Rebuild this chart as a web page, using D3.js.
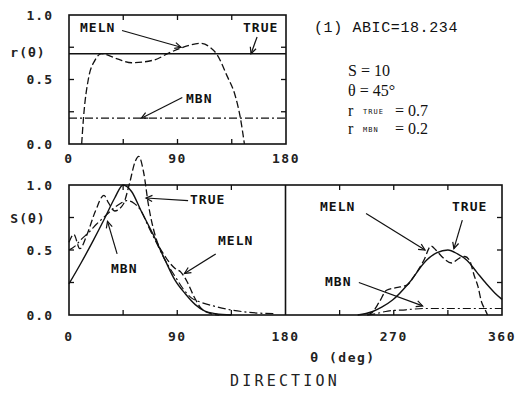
<!DOCTYPE html>
<html>
<head>
<meta charset="utf-8">
<script src="https://cdn.jsdelivr.net/npm/d3@7/dist/d3.min.js"></script>
<style>
  html, body { margin: 0; padding: 0; background: #fff; }
  svg { display: block; }
  .tick-label { font-family: "DejaVu Sans Mono", monospace; font-size: 13px; font-weight: bold; fill: #222; }
  .curve-label { font-family: "DejaVu Sans Mono", monospace; font-size: 13px; font-weight: bold; fill: #111; }
  .note { font-family: "Liberation Mono", monospace; font-size: 15px; fill: #111; }
  .param { font-family: "Liberation Serif", serif; font-size: 16px; fill: #111; }
  .sub { font-family: "DejaVu Sans Mono", monospace; font-size: 7px; fill: #111; }
</style>
</head>
<body>
<svg id="chart" width="517" height="401"></svg>
<script>
// ---- constants of the estimates ----
const rTrue = 0.7;
const rMbn = 0.2;

// r(θ) estimated by MELN (degrees / value)
const rMelnDeg = [10.5, 12, 16, 21.6, 27, 40, 52, 70, 84, 98, 109, 117, 123, 131, 138, 142, 145.5];
const rMelnVal = [0, 0.2, 0.5, 0.65, 0.7, 0.66, 0.63, 0.65, 0.71, 0.76, 0.78, 0.75, 0.69, 0.53, 0.37, 0.21, 0];

// S(θ) : true spectrum
const sTrueDeg = [0, 10, 20, 30, 38, 45, 52, 60, 71, 80, 88, 97, 105, 113, 122, 135, null,
                  240, 252, 260, 269, 283, 297, 306, 315, 323, 331, 339, 347, 354, 360];
const sTrueVal = [0.24, 0.4, 0.57, 0.75, 0.9, 1.0, 0.95, 0.8, 0.6, 0.42, 0.27, 0.16, 0.08, 0.03, 0.01, 0, null,
                  0, 0.025, 0.06, 0.115, 0.25, 0.42, 0.48, 0.5, 0.47, 0.42, 0.33, 0.24, 0.17, 0.12];

// S(θ) : MELN estimate
const sMelnDeg = [0, 4, 9, 15, 22, 29, 33, 38, 45, 50, 55, 58, 62, 66, 72, 80, 88, 93, 98, 104, 110, 118, 125, null,
                  248, 252, 258, 264, 272, 281, 287, 295, 301, 305, 311, 318, 325, 329, 333, 337, 340, 343, 346, 348];
const sMelnVal = [0.56, 0.62, 0.51, 0.62, 0.8, 0.92, 0.86, 0.8, 0.85, 1.0, 1.18, 1.22, 1.1, 0.85, 0.6, 0.45, 0.36, 0.33, 0.26, 0.14, 0.05, 0.01, 0, null,
                  0, 0.02, 0.1, 0.19, 0.21, 0.23, 0.3, 0.42, 0.53, 0.5, 0.44, 0.4, 0.44, 0.45, 0.42, 0.3, 0.22, 0.1, 0.04, 0];

// S(θ) : MBN estimate
const sMbnDeg = [0, 5, 10, 17, 23, 30, 37, 43, 48, 54, 60, 66, 73, 80, 88, 95, 102, 109, 120, 134, 150, 170, null,
                 248, 255, 265, 280, 295, 320, 360];
const sMbnVal = [0.5, 0.53, 0.58, 0.64, 0.7, 0.76, 0.82, 0.86, 0.88, 0.86, 0.8, 0.68, 0.55, 0.42, 0.3, 0.2, 0.13, 0.1, 0.07, 0.04, 0.02, 0.01, null,
                 0, 0.01, 0.03, 0.04, 0.05, 0.05, 0.05];

// axis ticks and labels
const topXTicks = [0, 90, 180];
const bottomXTicks = [0, 90, 180, 270, 360];
const minorXTicks = [45, 90, 135, 225, 270, 315];
const yTicks = [0.0, 0.5, 1.0];
const yMinor = [0.25, 0.5, 0.75];

const svg = d3.select("#chart");

// scales
const xTop = d3.scaleLinear().domain([0, 180]).range([69, 286]);
const yTop = d3.scaleLinear().domain([0, 1]).range([144, 15]);
const xBot = d3.scaleLinear().domain([0, 360]).range([69, 502]);
const yBot = d3.scaleLinear().domain([0, 1]).range([315, 185]);

const STYLE = {
  true: { dash: null, w: 1.4 },
  meln: { dash: "7,3", w: 1.3 },
  mbn:  { dash: "8,3,2,3", w: 1.2 }
};

function zip(xs, ys) { return xs.map((d, i) => [d, ys[i]]); }

function drawCurve(g, x, y, pts, st) {
  const line = d3.line()
    .defined(d => d[0] !== null && d[1] !== null)
    .x(d => x(d[0])).y(d => y(d[1]))
    .curve(d3.curveMonotoneX);
  g.append("path").attr("d", line(pts))
    .attr("fill", "none").attr("stroke", "#111")
    .attr("stroke-width", st.w)
    .attr("stroke-dasharray", st.dash)
    .attr("stroke-linejoin", "round");
}

function frame(x, y, xMinor) {
  const [x0, x1] = x.range();
  const [y0, y1] = y.range();
  const g = svg.append("g");
  g.append("rect").attr("x", x0).attr("y", y1).attr("width", x1 - x0).attr("height", y0 - y1)
    .attr("fill", "none").attr("stroke", "#111").attr("stroke-width", 1.6);
  // inward ticks, y
  yMinor.forEach(v => {
    g.append("line").attr("x1", x0).attr("x2", x0 + 5).attr("y1", y(v)).attr("y2", y(v)).attr("stroke", "#111").attr("stroke-width", 1.3);
    g.append("line").attr("x1", x1).attr("x2", x1 - 5).attr("y1", y(v)).attr("y2", y(v)).attr("stroke", "#111").attr("stroke-width", 1.3);
  });
  // inward ticks, x
  xMinor.filter(v => v < x.domain()[1]).forEach(v => {
    g.append("line").attr("x1", x(v)).attr("x2", x(v)).attr("y1", y1).attr("y2", y1 + 5).attr("stroke", "#111").attr("stroke-width", 1.3);
    g.append("line").attr("x1", x(v)).attr("x2", x(v)).attr("y1", y0).attr("y2", y0 - 5).attr("stroke", "#111").attr("stroke-width", 1.3);
  });
  return g;
}

function yLabels(y, name, nameY) {
  yTicks.forEach(v => {
    svg.append("text").attr("class", "tick-label")
      .attr("x", 53).attr("y", y(v)).attr("dy", "0.35em")
      .attr("text-anchor", "end").attr("letter-spacing", 1)
      .text(v.toFixed(1));
  });
  svg.append("text").attr("class", "tick-label")
    .attr("x", 28).attr("y", nameY).attr("dy", "0.35em")
    .attr("text-anchor", "middle").attr("letter-spacing", 1)
    .text(name);
}

function xLabels(x, ticks, yPos) {
  ticks.forEach(v => {
    svg.append("text").attr("class", "tick-label")
      .attr("x", x(v)).attr("y", yPos).attr("dy", "0.35em")
      .attr("text-anchor", "middle").attr("letter-spacing", 1.5)
      .text(v);
  });
}

// label with a leader line and a small open arrowhead at the curve end
function callout(text, lx, ly, fromXY, toXY) {
  svg.append("text").attr("class", "curve-label")
    .attr("x", lx).attr("y", ly).attr("dy", "0.35em")
    .attr("letter-spacing", 1).text(text);
  const [ax, ay] = fromXY, [bx, by] = toXY;
  svg.append("line").attr("x1", ax).attr("y1", ay).attr("x2", bx).attr("y2", by)
    .attr("stroke", "#111").attr("stroke-width", 1.2);
  const ang = Math.atan2(ay - by, ax - bx);
  const L = 7, spread = 0.45;
  const p1 = [bx + L * Math.cos(ang + spread), by + L * Math.sin(ang + spread)];
  const p2 = [bx + L * Math.cos(ang - spread), by + L * Math.sin(ang - spread)];
  svg.append("path").attr("d", `M${p1[0]},${p1[1]}L${bx},${by}L${p2[0]},${p2[1]}`)
    .attr("fill", "none").attr("stroke", "#111").attr("stroke-width", 1.2);
}

// ---------- upper panel: r(θ) ----------
frame(xTop, yTop, minorXTicks);
const gTop = svg.append("g");
drawCurve(gTop, xTop, yTop, [[0, rTrue], [180, rTrue]], STYLE.true);
drawCurve(gTop, xTop, yTop, [[0, rMbn], [180, rMbn]], STYLE.mbn);
drawCurve(gTop, xTop, yTop, zip(rMelnDeg, rMelnVal), STYLE.meln);
yLabels(yTop, "r(θ)", 52);
xLabels(xTop, topXTicks, 158);

callout("MELN", 80, 27, [xTop(44), yTop(0.88)], [xTop(93), yTop(0.75)]);
callout("TRUE", 243, 27, [xTop(156), yTop(0.83)], [xTop(151), yTop(0.7)]);
callout("MBN", 186, 98, [xTop(94), yTop(0.36)], [xTop(60), yTop(0.2)]);

// ---------- lower panel: S(θ) ----------
frame(xBot, yBot, minorXTicks);
svg.append("line").attr("x1", xBot(180)).attr("x2", xBot(180))
  .attr("y1", yBot(0)).attr("y2", yBot(1)).attr("stroke", "#111").attr("stroke-width", 1.6);
const gBot = svg.append("g");
drawCurve(gBot, xBot, yBot, zip(sTrueDeg, sTrueVal), STYLE.true);
drawCurve(gBot, xBot, yBot, zip(sMbnDeg, sMbnVal), STYLE.mbn);
drawCurve(gBot, xBot, yBot, zip(sMelnDeg, sMelnVal), STYLE.meln);
yLabels(yBot, "S(θ)", 218);
xLabels(xBot, bottomXTicks, 336);

callout("TRUE", 190, 199, [xBot(99), yBot(0.88)], [xBot(64), yBot(0.9)]);
callout("MBN", 111, 268, [xBot(40), yBot(0.47)], [xBot(32), yBot(0.72)]);
callout("MELN", 218, 240, [xBot(122), yBot(0.47)], [xBot(96), yBot(0.32)]);
callout("MELN", 320, 206, [xBot(247), yBot(0.78)], [xBot(296), yBot(0.5)]);
callout("TRUE", 452, 206, [xBot(327), yBot(0.73)], [xBot(320), yBot(0.51)]);
callout("MBN", 325, 281, [xBot(241), yBot(0.25)], [xBot(294), yBot(0.07)]);

// axis title
svg.append("text").attr("class", "tick-label")
  .attr("x", 343).attr("y", 357).attr("dy", "0.35em")
  .attr("text-anchor", "middle").attr("letter-spacing", 1.5)
  .text("θ (deg)");
svg.append("text").attr("class", "tick-label")
  .attr("x", 285).attr("y", 381).attr("dy", "0.35em")
  .attr("text-anchor", "middle").attr("letter-spacing", 3.2)
  .style("font-size", "15px").style("font-weight", "normal")
  .text("DIRECTION");

// ---------- parameter notes ----------
svg.append("text").attr("class", "note")
  .attr("x", 314).attr("y", 27).attr("dy", "0.35em").attr("letter-spacing", 0.6)
  .text("(1) ABIC=18.234");
const notes = [
  { y: 70, main: "S = 10" },
  { y: 90, main: "θ = 45°" },
];
notes.forEach(n => {
  svg.append("text").attr("class", "param").attr("x", 348).attr("y", n.y).attr("dy", "0.35em").text(n.main);
});
[{ y: 110, sub: "TRUE", val: "= 0.7" }, { y: 128, sub: "MBN", val: "= 0.2" }].forEach(n => {
  svg.append("text").attr("class", "param").attr("x", 348).attr("y", n.y).attr("dy", "0.35em").text("r");
  svg.append("text").attr("class", "sub").attr("x", 363).attr("y", n.y + 2).attr("dy", "0.35em").attr("letter-spacing", 1).text(n.sub);
  svg.append("text").attr("class", "param").attr("x", 395).attr("y", n.y).attr("dy", "0.35em").text(n.val);
});
</script>
</body>
</html>
